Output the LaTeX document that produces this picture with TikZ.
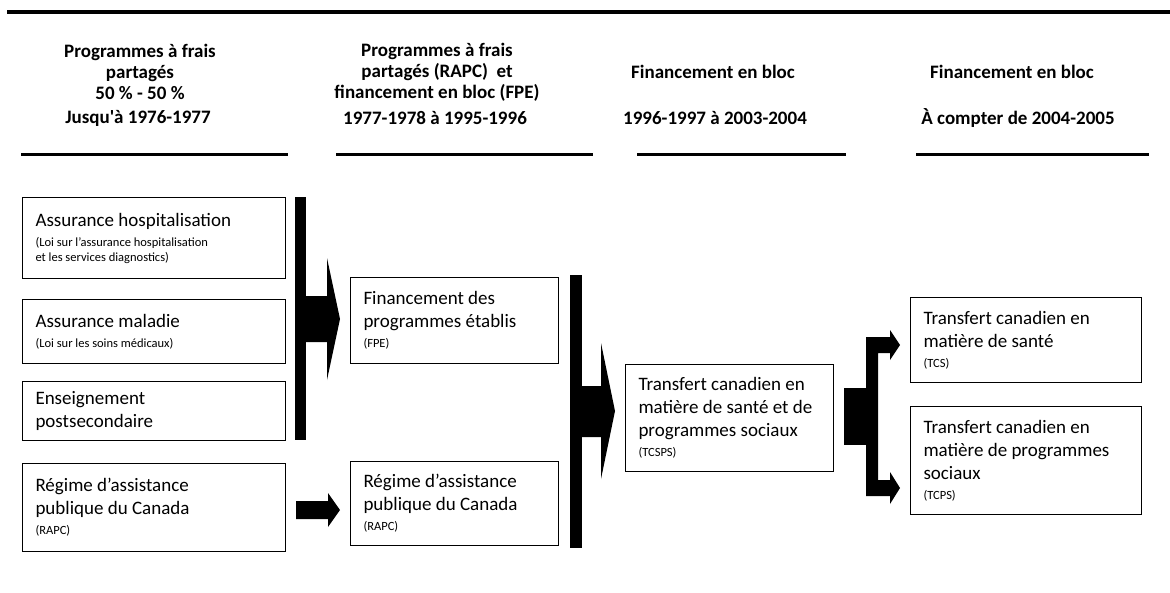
\documentclass[tikz,border=0pt]{standalone}
\usepackage{fontspec}
\setmainfont{Carlito}
\newcommand\mainf{\fontsize{19}{23}\selectfont\parfillskip=0pt plus 1fil\relax}
\newcommand\smallf{\fontsize{12.5}{15}\selectfont}
\newcommand\hdrf{\fontsize{19}{21}\selectfont\bfseries}
\newcommand\eol{\hfill\par}
\begin{document}
\begin{tikzpicture}[x=1pt,y=-1pt,
  box/.style={draw=black, line width=1pt, anchor=north west, align=flush left,
    inner xsep=13pt, inner ysep=3pt, font=\mainf},
  hdr/.style={align=center, font=\hdrf, inner sep=0pt},
  rule/.style={line width=3pt},
  bar/.style={fill=black, draw=none, inner sep=0pt, anchor=north west}]
\useasboundingbox (0,0) rectangle (1170,592);
% top rule
\coordinate (tl) at (7,12);
\coordinate (tr) at (1170,12);
\draw[line width=4pt] (tl) -- (tr);

% headers
\node[hdr] (h1) at (140,72) {Programmes à frais\\partagés\\50 \% - 50 \%};
\node[hdr] (d1) at (138,118) {Jusqu\textquotesingle à 1976-1977};
\node[hdr] (h2) at (437,72) {Programmes à frais\\partagés (RAPC)~ et\\financement en bloc (FPE)};
\node[hdr] (d2) at (435,118) {1977-1978 à 1995-1996};
\node[hdr] (h3) at (713,72) {Financement en bloc};
\node[hdr] (d3) at (715,118) {1996-1997 à 2003-2004};
\node[hdr] (h4) at (1012,72) {Financement en bloc};
\node[hdr] (d4) at (1018,118) {À compter de 2004-2005};
\coordinate (u1a) at (21,154); \coordinate (u1b) at (288,154);
\coordinate (u2a) at (336,154); \coordinate (u2b) at (593,154);
\coordinate (u3a) at (637,154); \coordinate (u3b) at (846,154);
\coordinate (u4a) at (916,154); \coordinate (u4b) at (1149,154);
\draw[rule] (u1a) -- (u1b);
\draw[rule] (u2a) -- (u2b);
\draw[rule] (u3a) -- (u3b);
\draw[rule] (u4a) -- (u4b);

% column 1 boxes
\node[box, text width=237pt, minimum height=81pt] (b1) at (22,197)
  {Assurance hospitalisation\eol\vspace{5pt}{\smallf (Loi sur l’assurance hospitalisation\\et les services diagnostics)\eol}};
\node[box, text width=237pt, minimum height=64pt] (b2) at (22,299)
  {Assurance maladie\eol\vspace{5pt}{\smallf (Loi sur les soins médicaux)\eol}};
\node[box, text width=237pt, minimum height=59pt] (b3) at (22,381)
  {Enseignement\\postsecondaire\eol};
\node[box, text width=237pt, minimum height=88pt] (b4) at (22,463)
  {Régime d’assistance\\publique du Canada\eol\vspace{5pt}{\smallf (RAPC)\eol}};

% column 2 boxes
\node[box, text width=182pt, minimum height=86pt] (c1) at (350,277)
  {Financement des\\programmes établis\eol\vspace{5pt}{\smallf (FPE)\eol}};
\node[box, text width=182pt, minimum height=84pt] (c2) at (350,461)
  {Régime d’assistance\\publique du Canada\eol\vspace{5pt}{\smallf (RAPC)\eol}};

% column 3 box
\node[box, text width=182pt, minimum height=107pt] (t1) at (625,364)
  {Transfert canadien en\\matière de santé et de\\programmes sociaux\eol\vspace{5pt}{\smallf (TCSPS)\eol}};

% column 4 boxes
\node[box, text width=205pt, minimum height=85pt] (s1) at (910,297)
  {Transfert canadien en\\matière de santé\eol\vspace{5pt}{\smallf (TCS)\eol}};
\node[box, text width=205pt, minimum height=108pt] (s2) at (910,406)
  {Transfert canadien en\\matière de programmes\\sociaux\eol\vspace{5pt}{\smallf (TCPS)\eol}};

% bars
\node[bar, minimum width=11pt, minimum height=243pt] (bar1) at (295,197) {};
\node[bar, minimum width=12pt, minimum height=273pt] (bar2) at (570,275) {};

% arrow bar1 -> FPE
\fill (306,296) -- (327,296) -- (327,258) -- (340,319) -- (327,380) -- (327,342) -- (306,342) -- cycle;
% arrow RAPC -> RAPC
\fill (296,501) -- (328,501) -- (328,493) -- (340,510) -- (328,527) -- (328,519) -- (296,519) -- cycle;
% arrow bar2 -> TCSPS
\fill (582,386) -- (601,386) -- (601,343) -- (615,411) -- (601,479) -- (601,437) -- (582,437) -- cycle;
% fork TCSPS -> TCS / TCPS
\fill (844,388) rectangle (867,445);
\fill (866,337) -- (890,337) -- (890,330) -- (900,345) -- (890,360) -- (890,353) -- (878,353)
  -- (878,480) -- (890,480) -- (890,472) -- (900,488) -- (890,504) -- (890,496) -- (866,496) -- cycle;
\end{tikzpicture}
\end{document}
